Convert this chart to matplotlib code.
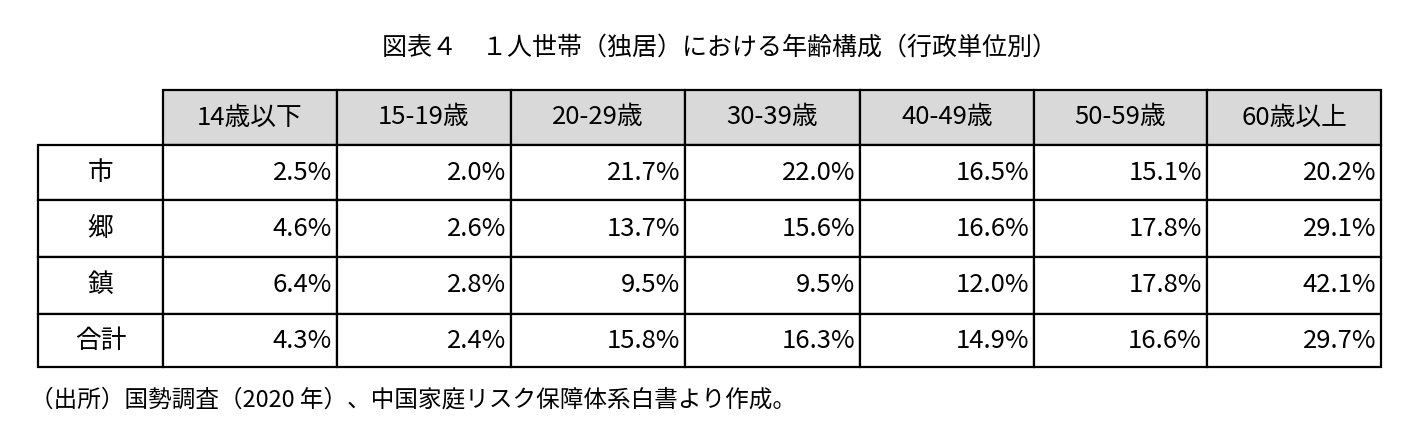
import matplotlib
matplotlib.use("Agg")
import matplotlib.pyplot as plt
from matplotlib.patches import Rectangle

plt.rcParams["font.family"] = ["Noto Sans CJK JP", "DejaVu Sans"]

TITLE = "図表４　１人世帯（独居）における年齢構成（行政単位別）"
NOTE = "（出所）国勢調査（2020 年）、中国家庭リスク保障体系白書より作成。"
age_groups = ["14歳以下", "15-19歳", "20-29歳", "30-39歳", "40-49歳", "50-59歳", "60歳以上"]
areas = ["市", "郷", "鎮", "合計"]
shares = [
    [2.5, 2.0, 21.7, 22.0, 16.5, 15.1, 20.2],
    [4.6, 2.6, 13.7, 15.6, 16.6, 17.8, 29.1],
    [6.4, 2.8, 9.5, 9.5, 12.0, 17.8, 42.1],
    [4.3, 2.4, 15.8, 16.3, 14.9, 16.6, 29.7],
]

W, H = 1419, 445
fig = plt.figure(figsize=(W / 100, H / 100), dpi=100)
ax = fig.add_axes([0, 0, 1, 1])
ax.set_xlim(0, W)
ax.set_ylim(H, 0)
ax.axis("off")

col_x = [38, 163, 337, 511, 685, 860, 1034, 1207, 1381]
row_y = [90, 145, 200, 257, 314, 367]
fs = 18.5
lw = 1.6

ax.text(720, 48, TITLE, ha="center", va="center", fontsize=18)

# header row
for j, lab in enumerate(age_groups):
    x0, x1 = col_x[j + 1], col_x[j + 2]
    ax.add_patch(Rectangle((x0, row_y[0]), x1 - x0, row_y[1] - row_y[0],
                           facecolor="#d9d9d9", edgecolor="black", lw=lw))
    ax.text((x0 + x1) / 2, (row_y[0] + row_y[1]) / 2, lab, ha="center", va="center", fontsize=fs)

# body rows
for i, area in enumerate(areas):
    y0, y1 = row_y[i + 1], row_y[i + 2]
    ym = (y0 + y1) / 2
    for j in range(len(col_x) - 1):
        ax.add_patch(Rectangle((col_x[j], y0), col_x[j + 1] - col_x[j], y1 - y0,
                               facecolor="white", edgecolor="black", lw=lw))
    ax.text((col_x[0] + col_x[1]) / 2, ym, area, ha="center", va="center", fontsize=fs)
    for j, v in enumerate(shares[i]):
        ax.text(col_x[j + 2] - 5, ym, f"{v:.1f}%", ha="right", va="center", fontsize=fs)

ax.text(30, 400, NOTE, ha="left", va="center", fontsize=17)

fig.savefig("out.png", dpi=100)
